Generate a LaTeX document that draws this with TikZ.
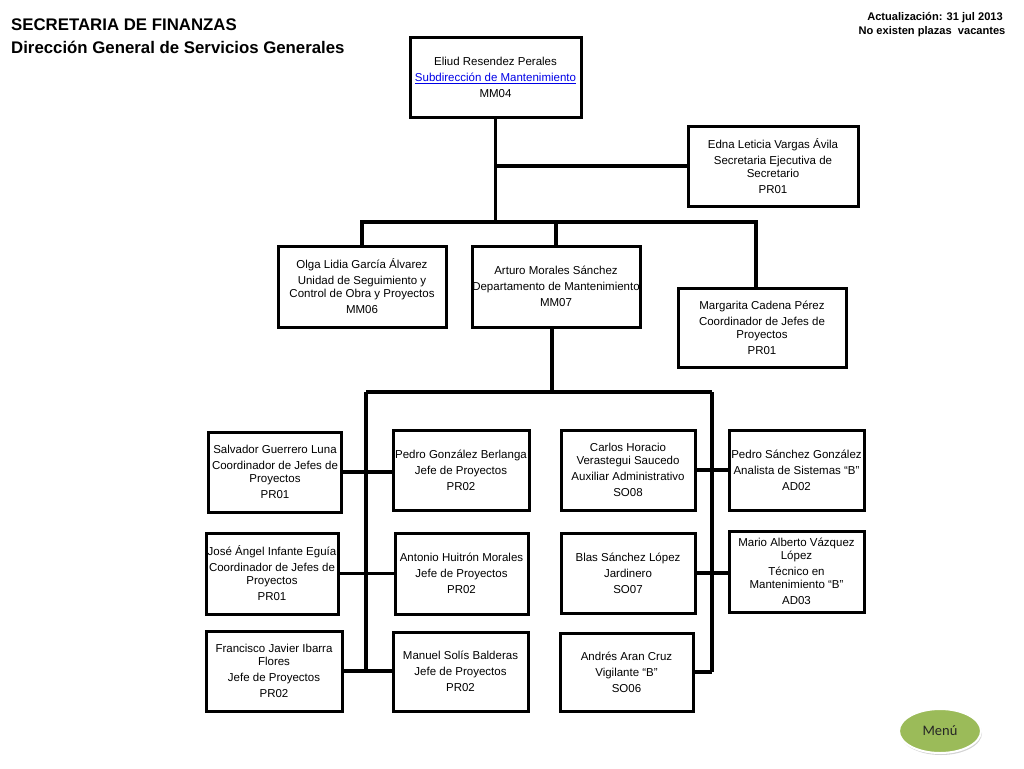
\documentclass[tikz,border=0pt]{standalone}
\usepackage{fontspec}
\setmainfont{Liberation Sans}
\newfontfamily\menufont{Carlito}
\usetikzlibrary{shapes.geometric,shadows}
\definecolor{verdemenu}{RGB}{155,187,89}
\definecolor{azulliga}{RGB}{0,0,230}

\begin{document}
\begin{tikzpicture}[x=1pt,y=-1pt,
	puesto/.style={rectangle,draw,line width=3pt,inner sep=0pt,align=center,font=\fontsize{11.5}{13}\selectfont},
	linea/.style={line width=3.8pt}]
	\useasboundingbox (0,0) rectangle (1024,768);
	% encabezados
	\node (titulo) [anchor=base west,inner sep=0pt,font=\bfseries\fontsize{16.8}{20}\selectfont] at (11,31) {SECRETARIA DE FINANZAS};
	\node (subtitulo) [anchor=base west,inner sep=0pt,font=\bfseries\fontsize{16.8}{20}\selectfont] at (11,53) {Dirección General de Servicios Generales};
	\node (fecha) [anchor=base,inner sep=0pt,font=\bfseries\fontsize{11.1}{13}\selectfont] at (935,21) {Actualización: 31 jul 2013};
	\node (vacantes) [anchor=base,inner sep=0pt,font=\bfseries\fontsize{11.1}{13}\selectfont] at (932,35) {No existen plazas\ \ vacantes};
	% puestos
	\node (11) [puesto,minimum width=171,minimum height=79] at (495.5,77.5) {Eliud Resendez Perales\\[3pt] \textcolor{azulliga}{\underline{Subdirección de Mantenimiento}}\\[3pt] MM04};
	\node (21) [puesto,minimum width=170,minimum height=80] at (773,166) {Edna Leticia Vargas Ávila\\[3pt] Secretaria Ejecutiva de\\ Secretario\\[3pt] PR01};
	\node (31) [puesto,minimum width=168,minimum height=81] at (362,286.5) {Olga Lidia García Álvarez\\[3pt] Unidad de Seguimiento y\\ Control de Obra y Proyectos\\[3pt] MM06};
	\node (32) [puesto,minimum width=168,minimum height=81] at (556,286.5) {Arturo Morales Sánchez\\[3pt] Departamento de Mantenimiento\\[3pt] MM07};
	\node (33) [puesto,minimum width=168,minimum height=79] at (762,327.5) {Margarita Cadena Pérez\\[3pt] Coordinador de Jefes de\\ Proyectos\\[3pt] PR01};
	\node (41) [puesto,minimum width=133,minimum height=80] at (275,472) {Salvador Guerrero Luna\\[3pt] Coordinador de Jefes de\\ Proyectos\\[3pt] PR01};
	\node (42) [puesto,minimum width=136,minimum height=80] at (461,470) {Pedro González Berlanga\\[3pt] Jefe de Proyectos\\[3pt] PR02};
	\node (43) [puesto,minimum width=134,minimum height=80] at (628,470) {Carlos Horacio\\ Verastegui Saucedo\\[3pt] Auxiliar Administrativo\\[3pt] SO08};
	\node (44) [puesto,minimum width=135,minimum height=80] at (796.5,470) {Pedro Sánchez González\\[3pt] Analista de Sistemas “B”\\[3pt] AD02};
	\node (51) [puesto,minimum width=132,minimum height=81] at (272,573.5) {José Ángel Infante Eguía\\[3pt] Coordinador de Jefes de\\ Proyectos\\[3pt] PR01};
	\node (52) [puesto,minimum width=133,minimum height=81] at (461.5,573.5) {Antonio Huitrón Morales\\[3pt] Jefe de Proyectos\\[3pt] PR02};
	\node (53) [puesto,minimum width=134,minimum height=80] at (628,573) {Blas Sánchez López\\[3pt] Jardinero\\[3pt] SO07};
	\node (54) [puesto,minimum width=135,minimum height=81] at (796.5,571.5) {Mario Alberto Vázquez\\ López\\[3pt] Técnico en\\ Mantenimiento “B”\\[3pt] AD03};
	\node (61) [puesto,minimum width=136,minimum height=80] at (274,671) {Francisco Javier Ibarra\\ Flores\\[3pt] Jefe de Proyectos\\[3pt] PR02};
	\node (62) [puesto,minimum width=135,minimum height=79] at (460.5,671.5) {Manuel Solís Balderas\\[3pt] Jefe de Proyectos\\[3pt] PR02};
	\node (63) [puesto,minimum width=133,minimum height=78] at (626.5,672) {Andrés Aran Cruz\\[3pt] Vigilante “B”\\[3pt] SO06};
	% menu
	\node (menu) [ellipse,draw=white,line width=2pt,fill=verdemenu,minimum width=82,minimum height=44,inner sep=0pt,
		drop shadow={shadow xshift=1pt,shadow yshift=-2pt,opacity=0.35},
		font=\menufont\fontsize{14.5}{16}\selectfont,text=black!85] at (940,731) {Menú};
	% conectores
	\coordinate (barra) at (495.5,222);
	\coordinate (bi) at (366,392);
	\coordinate (bd) at (712,392);
	\draw [linea] (11.south) -- (barra);
	\draw [linea] (21.west) -- (21.west -| 11.south);
	\draw [linea] (31.north) |- ([xshift=-6pt]33.north |- barra) -- ([xshift=-6pt]33.north);
	\draw [linea] (32.north) -- (32.north |- barra);
	\draw [linea] ([xshift=-4pt]32.south) -- ([xshift=-4pt]32.south |- bi);
	\draw [linea] (bi) -- (bd);
	\draw [linea] (bi) -- (bi |- 61.east);
	\draw [linea] (bd) -- (bd |- 63.east);
	\draw [linea] (41.east) -- (41.east -| 42.west);
	\draw [linea] (51.east) -- (51.east -| 52.west);
	\draw [linea] (61.east) -- (61.east -| 62.west);
	\draw [linea] (43.east) -- (43.east -| 44.west);
	\draw [linea] (53.east) -- (53.east -| 54.west);
	\draw [linea] (63.east) -- (63.east -| bd);
\end{tikzpicture}
\end{document}
